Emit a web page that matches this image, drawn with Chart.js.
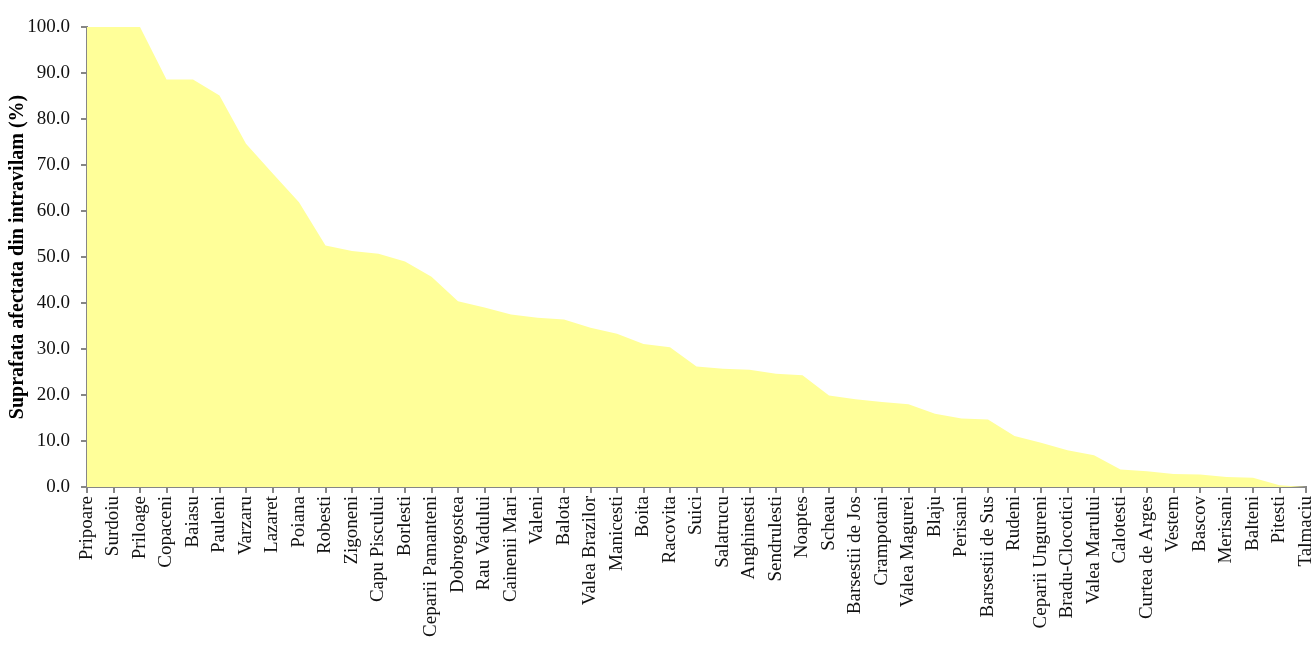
<!DOCTYPE html>
<html>
<head>
<meta charset="utf-8">
<script src="https://cdn.jsdelivr.net/npm/chart.js@4/dist/chart.umd.min.js"></script>
<style>
  html, body { margin: 0; padding: 0; background: #fff; }
  #wrap { width: 1313px; height: 648px; }
</style>
</head>
<body>
<div id="wrap"><canvas id="areaChart" width="1313" height="648"></canvas></div>
<script>
// Localitati (categorii)
const localitati = [
  'Pripoare', 'Surdoiu', 'Priloage', 'Copaceni', 'Baiasu', 'Pauleni', 'Varzaru', 'Lazaret',
  'Poiana', 'Robesti', 'Zigoneni', 'Capu Piscului', 'Borlesti', 'Ceparii Pamanteni',
  'Dobrogostea', 'Rau Vadului', 'Cainenii Mari', 'Valeni', 'Balota', 'Valea Brazilor',
  'Manicesti', 'Boita', 'Racovita', 'Suici', 'Salatrucu', 'Anghinesti', 'Sendrulesti',
  'Noaptes', 'Scheau', 'Barsestii de Jos', 'Crampotani', 'Valea Magurei', 'Blaju',
  'Perisani', 'Barsestii de Sus', 'Rudeni', 'Ceparii Ungureni', 'Bradu-Clocotici',
  'Valea Marului', 'Calotesti', 'Curtea de Arges', 'Vestem', 'Bascov', 'Merisani',
  'Balteni', 'Pitesti', 'Talmaciu'
];

// Suprafata afectata din intravilan (%)
const suprafataAfectata = [
  100.0, 100.0, 100.0, 88.6, 88.6, 85.1, 74.6, 68.2,
  61.9, 52.5, 51.3, 50.7, 49.0, 45.7,
  40.4, 39.0, 37.5, 36.8, 36.4, 34.6,
  33.3, 31.1, 30.4, 26.2, 25.7, 25.5, 24.6,
  24.3, 19.9, 19.1, 18.5, 18.0, 15.9,
  14.9, 14.7, 11.1, 9.6, 8.0,
  6.9, 3.8, 3.4, 2.8, 2.7, 2.2,
  2.0, 0.4, 0.0
];

// Axa Y
const yMin = 0;
const yMax = 100;
const yStep = 10;
const yTitle = 'Suprafata afectata din intravilam (%)';

const axisGray = '#868686';
const serif = "'Liberation Serif', 'DejaVu Serif', serif";

const ctx = document.getElementById('areaChart').getContext('2d');

new Chart(ctx, {
  type: 'line',
  data: {
    labels: localitati,
    datasets: [{
      data: suprafataAfectata,
      fill: 'origin',
      backgroundColor: '#FFFF99',
      borderWidth: 0,
      borderColor: 'rgba(0,0,0,0)',
      pointRadius: 0,
      tension: 0
    }]
  },
  options: {
    responsive: false,
    animation: false,
    layout: {
      padding: { top: 27, right: 7, bottom: 0, left: 0 }
    },
    plugins: {
      legend: { display: false },
      tooltip: { enabled: false }
    },
    scales: {
      x: {
        offset: false,
        border: { color: axisGray, width: 2 },
        grid: {
          drawOnChartArea: false,
          drawTicks: true,
          tickLength: 6,
          color: axisGray,
          lineWidth: 2
        },
        ticks: {
          autoSkip: false,
          maxRotation: 90,
          minRotation: 90,
          padding: 3,
          color: '#111',
          font: { family: serif, size: 19 }
        },
        afterFit: (scale) => {
          scale.height = 161;
          scale.paddingLeft = 0;
          scale.paddingRight = 0;
        }
      },
      y: {
        min: yMin,
        max: yMax,
        border: { color: axisGray, width: 2 },
        grid: {
          drawOnChartArea: false,
          drawTicks: true,
          tickLength: 6,
          color: axisGray,
          lineWidth: 2
        },
        ticks: {
          stepSize: yStep,
          padding: 11,
          color: '#111',
          font: { family: serif, size: 19 },
          callback: (v) => Number(v).toFixed(1)
        },
        title: {
          display: true,
          text: yTitle,
          color: '#000',
          padding: { top: 6, bottom: 0 },
          font: { family: serif, size: 20, weight: 'bold' }
        },
        afterFit: (scale) => { scale.width = 87; }
      }
    }
  }
});
</script>
</body>
</html>
